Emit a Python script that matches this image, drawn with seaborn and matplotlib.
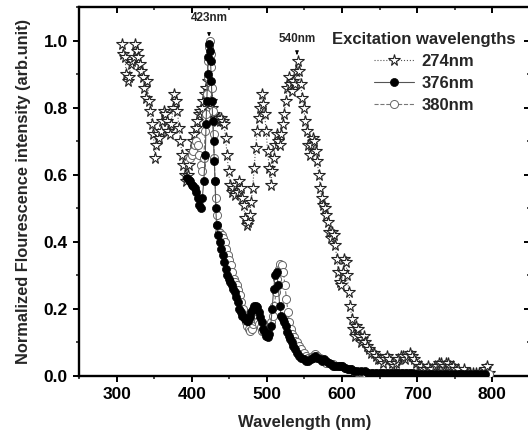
import numpy as np
import pandas as pd
import matplotlib
matplotlib.use("Agg")
import matplotlib.pyplot as plt
import seaborn as sns

# ---------------- data ----------------
ex274_wl = [307, 309, 311, 313, 315, 317, 319, 321, 323, 325, 327, 329, 331, 333, 335, 337, 339, 341, 343, 345,
            347, 349, 351, 353, 355, 357, 359, 361, 363, 365, 367, 369, 371, 373, 375, 377, 379, 381, 383, 385,
            387, 389, 391, 393, 395, 397, 399, 401, 403, 405, 407, 409, 411, 413, 415, 417, 419, 421, 423, 425,
            427, 429, 431, 433, 435, 437, 439, 441, 443, 445, 447, 449, 451, 453, 455, 457, 459, 461, 463, 465,
            467, 469, 471, 473, 475, 477, 479, 481, 483, 485, 487, 489, 491, 493, 495, 497, 499, 501, 503, 505,
            507, 509, 511, 513, 515, 517, 519, 521, 523, 525, 527, 529, 531, 533, 535, 537, 539, 541, 543, 545,
            547, 549, 551, 553, 555, 557, 559, 561, 563, 565, 567, 569, 571, 573, 575, 577, 579, 581, 583, 585,
            587, 589, 591, 593, 595, 597, 599, 601, 603, 605, 607, 609, 611, 613, 615, 617, 619, 621, 623, 625,
            627, 629, 631, 633, 636, 639, 642, 645, 648, 651, 654, 657, 660, 663, 666, 669, 672, 675, 678, 681,
            684, 687, 690, 693, 696, 699, 702, 705, 708, 711, 714, 717, 720, 723, 726, 729, 732, 735, 738, 741,
            744, 747, 750, 754, 758, 762, 766, 770, 774, 778, 782, 786, 790, 793, 796]
ex274_int = [0.99, 0.96, 0.95, 0.90, 0.88, 0.89, 0.93, 0.94, 0.95, 0.99, 0.97, 0.95, 0.93, 0.91, 0.89, 0.86, 0.83, 0.88, 0.82, 0.79,
             0.75, 0.72, 0.65, 0.69, 0.72, 0.71, 0.73, 0.76, 0.79, 0.78, 0.76, 0.73, 0.72, 0.75, 0.80, 0.84, 0.82, 0.79, 0.74, 0.70,
             0.66, 0.63, 0.60, 0.58, 0.60, 0.63, 0.67, 0.70, 0.72, 0.74, 0.76, 0.78, 0.79, 0.80, 0.82, 0.84, 0.86, 0.88, 0.85, 0.82,
             0.80, 0.78, 0.77, 0.76, 0.77, 0.76, 0.77, 0.76, 0.75, 0.71, 0.66, 0.61, 0.57, 0.55, 0.56, 0.54, 0.57, 0.55, 0.58, 0.56,
             0.53, 0.51, 0.47, 0.45, 0.46, 0.48, 0.52, 0.56, 0.62, 0.68, 0.73, 0.77, 0.80, 0.84, 0.81, 0.78, 0.73, 0.67, 0.62, 0.57,
             0.61, 0.65, 0.69, 0.72, 0.70, 0.69, 0.72, 0.75, 0.78, 0.82, 0.86, 0.89, 0.87, 0.85, 0.88, 0.87, 0.91, 0.94, 0.91, 0.87,
             0.83, 0.80, 0.76, 0.73, 0.69, 0.66, 0.69, 0.71, 0.70, 0.67, 0.64, 0.60, 0.56, 0.53, 0.51, 0.50, 0.48, 0.46, 0.43, 0.41,
             0.43, 0.42, 0.39, 0.35, 0.31, 0.28, 0.27, 0.31, 0.35, 0.34, 0.30, 0.25, 0.21, 0.17, 0.14, 0.12, 0.15, 0.14, 0.12, 0.10,
             0.11, 0.12, 0.10, 0.09, 0.08, 0.07, 0.07, 0.06, 0.05, 0.05, 0.04, 0.05, 0.06, 0.05, 0.04, 0.03, 0.04, 0.05, 0.06, 0.06,
             0.05, 0.06, 0.07, 0.06, 0.05, 0.04, 0.03, 0.03, 0.02, 0.02, 0.03, 0.02, 0.02, 0.03, 0.03, 0.04, 0.04, 0.03, 0.04, 0.04,
             0.03, 0.03, 0.02, 0.02, 0.01, 0.02, 0.01, 0.01, 0.01, 0.01, 0.01, 0.01, 0.02, 0.03, 0.01]

ex376_wl = [394, 396, 398, 400, 402, 404, 406, 408, 410, 412, 414, 416, 418, 419, 420, 421, 422, 423, 424, 425,
            426, 427, 428, 429, 430, 431, 432, 433, 435, 437, 439, 441, 443, 445, 447, 449, 451, 453, 455, 457,
            459, 461, 463, 465, 467, 469, 471, 473, 475, 477, 479, 481, 483, 485, 487, 489, 491, 493, 495, 497,
            499, 501, 503, 505, 507, 509, 511, 513, 515, 517, 519, 521, 523, 525, 527, 529, 531, 533, 535, 537,
            540, 543, 546, 549, 552, 555, 558, 561, 564, 567, 570, 573, 576, 579, 582, 585, 588, 591, 594, 597,
            600, 604, 608, 612, 616, 620, 625, 630, 635, 640, 645, 650, 655, 660, 665, 670, 675, 680, 685, 690,
            695, 700, 705, 710, 715, 720, 725, 730, 735, 740, 745, 750, 755, 760, 765, 770, 775, 780, 785, 790]
ex376_int = [0.59, 0.585, 0.58, 0.57, 0.565, 0.56, 0.55, 0.53, 0.51, 0.50, 0.53, 0.58, 0.66, 0.75, 0.82, 0.90, 0.95, 0.99, 0.97, 0.94,
             0.88, 0.82, 0.76, 0.70, 0.64, 0.58, 0.50, 0.45, 0.42, 0.40, 0.38, 0.36, 0.34, 0.32, 0.30, 0.29, 0.28, 0.27, 0.26, 0.25,
             0.235, 0.22, 0.20, 0.19, 0.18, 0.175, 0.17, 0.165, 0.165, 0.175, 0.19, 0.20, 0.21, 0.21, 0.205, 0.19, 0.175, 0.16, 0.14, 0.13,
             0.12, 0.115, 0.125, 0.15, 0.20, 0.26, 0.30, 0.31, 0.27, 0.21, 0.18, 0.17, 0.16, 0.15, 0.13, 0.12, 0.11, 0.10, 0.09, 0.08,
             0.07, 0.06, 0.055, 0.05, 0.045, 0.045, 0.05, 0.055, 0.06, 0.055, 0.05, 0.045, 0.05, 0.045, 0.04, 0.035, 0.03, 0.03, 0.03, 0.03,
             0.03, 0.025, 0.02, 0.02, 0.015, 0.015, 0.015, 0.015, 0.01, 0.01, 0.01, 0.01, 0.01, 0.01, 0.008, 0.008, 0.008, 0.008, 0.008, 0.008,
             0.008, 0.007, 0.007, 0.007, 0.007, 0.007, 0.007, 0.006, 0.006, 0.006, 0.006, 0.006, 0.006, 0.005, 0.005, 0.005, 0.005, 0.005, 0.005, 0.005]

ex380_wl = [398, 400, 402, 404, 406, 408, 410, 412, 414, 416, 418, 419, 420, 421, 422, 423, 424, 425, 426, 427,
            428, 429, 430, 431, 432, 433, 434, 436, 438, 440, 442, 444, 446, 448, 450, 452, 454, 456, 458, 460,
            462, 464, 466, 468, 470, 472, 474, 476, 478, 480, 482, 484, 486, 488, 490, 492, 494, 496, 498, 500,
            502, 504, 506, 508, 510, 512, 514, 516, 518, 520, 522, 524, 526, 528, 530, 532, 534, 536, 538, 540,
            543, 546, 549, 552, 555, 558, 561, 564, 567, 570, 573, 576, 579, 582, 585, 588, 591, 594, 597, 600,
            604, 608, 612, 616, 620, 625, 630, 635, 640, 645, 650, 655, 660, 665, 670, 675, 680, 685, 690, 695,
            700, 705, 710, 715, 720, 725, 730, 735, 740, 745, 750, 755, 760, 765, 770, 775, 780, 785, 790, 795]
ex380_int = [0.65, 0.66, 0.67, 0.69, 0.70, 0.69, 0.66, 0.63, 0.61, 0.65, 0.73, 0.78, 0.84, 0.89, 0.94, 0.98, 1.00, 0.96, 0.92, 0.86,
             0.79, 0.72, 0.65, 0.58, 0.53, 0.48, 0.45, 0.43, 0.425, 0.42, 0.41, 0.40, 0.38, 0.36, 0.345, 0.33, 0.31, 0.29, 0.28, 0.27,
             0.255, 0.24, 0.22, 0.20, 0.18, 0.16, 0.15, 0.14, 0.135, 0.14, 0.155, 0.165, 0.17, 0.165, 0.155, 0.145, 0.135, 0.13, 0.13, 0.135,
             0.14, 0.15, 0.16, 0.18, 0.21, 0.25, 0.29, 0.32, 0.335, 0.33, 0.31, 0.27, 0.23, 0.19, 0.16, 0.14, 0.125, 0.115, 0.105, 0.10,
             0.09, 0.08, 0.07, 0.06, 0.055, 0.055, 0.06, 0.065, 0.06, 0.055, 0.05, 0.045, 0.04, 0.04, 0.035, 0.035, 0.03, 0.03, 0.03, 0.03,
             0.025, 0.02, 0.02, 0.015, 0.012, 0.012, 0.01, 0.01, 0.01, 0.01, 0.01, 0.009, 0.009, 0.009, 0.008, 0.008, 0.008, 0.008, 0.008, 0.007,
             0.007, 0.007, 0.007, 0.007, 0.006, 0.006, 0.006, 0.006, 0.006, 0.006, 0.005, 0.005, 0.005, 0.005, 0.005, 0.005, 0.005, 0.005, 0.005, 0.005]

series_labels = ["274nm", "376nm", "380nm"]
legend_title = "Excitation wavelengths"
x_ticks = [300, 400, 500, 600, 700, 800]
y_ticks = [0.0, 0.2, 0.4, 0.6, 0.8, 1.0]
peak_labels = [("423nm", 423, 1.068, 1.012), ("540nm", 540, 1.006, 0.958)]

# ---------------- style ----------------
sns.set_theme(style="ticks")
plt.rcParams["font.family"] = ["Liberation Sans", "DejaVu Sans"]
plt.rcParams["font.weight"] = "bold"

fig = plt.figure(figsize=(5.28, 4.41), dpi=100)
ax = fig.add_axes([79 / 528, 65 / 441, 451 / 528, 369 / 441])

df274 = pd.DataFrame({"wl": ex274_wl, "I": ex274_int})
df376 = pd.DataFrame({"wl": ex376_wl, "I": ex376_int})
df380 = pd.DataFrame({"wl": ex380_wl, "I": ex380_int})

sns.lineplot(data=df274, x="wl", y="I", ax=ax, estimator=None, sort=False,
             color="#555555", linestyle=":", linewidth=0.8,
             marker="*", markersize=8.5, markerfacecolor="white",
             markeredgecolor="#222222", markeredgewidth=0.8, label=series_labels[0], zorder=2)
sns.lineplot(data=df380, x="wl", y="I", ax=ax, estimator=None, sort=False,
             color="#777777", linestyle="--", linewidth=0.8,
             marker="o", markersize=5.8, markerfacecolor="white",
             markeredgecolor="#666666", markeredgewidth=0.7, label=series_labels[2], zorder=3)
sns.lineplot(data=df376, x="wl", y="I", ax=ax, estimator=None, sort=False,
             color="#555555", linestyle="-", linewidth=0.8,
             marker="o", markersize=5.8, markerfacecolor="black",
             markeredgecolor="black", markeredgewidth=0.5, label=series_labels[1], zorder=4)

ax.set_xlim(250, 850)
ax.set_ylim(0, 1.1)
ax.set_xticks(x_ticks)
ax.set_yticks(y_ticks)
ax.set_xticks(np.arange(250, 851, 50), minor=True)
ax.set_yticks(np.arange(0, 1.11, 0.1), minor=True)
ax.set_yticklabels([f"{v:.1f}" for v in y_ticks])

for s in ax.spines.values():
    s.set_linewidth(1.7)
    s.set_color("black")
ax.tick_params(axis="both", which="major", direction="out", length=4.5, width=1.4,
               labelsize=12.5, colors="black")
ax.tick_params(axis="both", which="minor", direction="out", length=2.5, width=1.2)
ax.tick_params(top=True, right=True, which="both", labeltop=False, labelright=False)
# top and right ticks point inward
for tl in ax.xaxis.get_majorticklines()[1::2] + ax.xaxis.get_minorticklines()[1::2]:
    tl.set_marker(matplotlib.lines.TICKDOWN)
for tl in ax.yaxis.get_majorticklines()[1::2] + ax.yaxis.get_minorticklines()[1::2]:
    tl.set_marker(matplotlib.lines.TICKLEFT)
for lab in ax.get_xticklabels() + ax.get_yticklabels():
    lab.set_fontweight("bold")

ax.set_xlabel("Wavelength (nm)", fontsize=12, fontweight="bold", labelpad=9)
ax.set_ylabel("Normalized Flourescence intensity (arb.unit)", fontsize=11.8, fontweight="bold", labelpad=9)

for txt, xw, ytxt, ytip in peak_labels:
    ax.annotate(txt, xy=(xw, ytip), xytext=(xw, ytxt), ha="center", va="center",
                fontsize=8.5, fontweight="bold",
                arrowprops=dict(arrowstyle="-|>", color="black", lw=0.7,
                                mutation_scale=5, shrinkA=4, shrinkB=0))

handles, labels = ax.get_legend_handles_labels()
order = [labels.index(l) for l in series_labels]
leg = ax.legend([handles[i] for i in order], [labels[i] for i in order],
                title=legend_title, frameon=False, loc="upper center",
                bbox_to_anchor=(0.765, 0.95), prop={"weight": "bold", "size": 12},
                title_fontproperties={"weight": "bold", "size": 12},
                handlelength=2.4, labelspacing=0.42, handletextpad=0.5, borderaxespad=0)

fig.savefig("out.png", dpi=100)
